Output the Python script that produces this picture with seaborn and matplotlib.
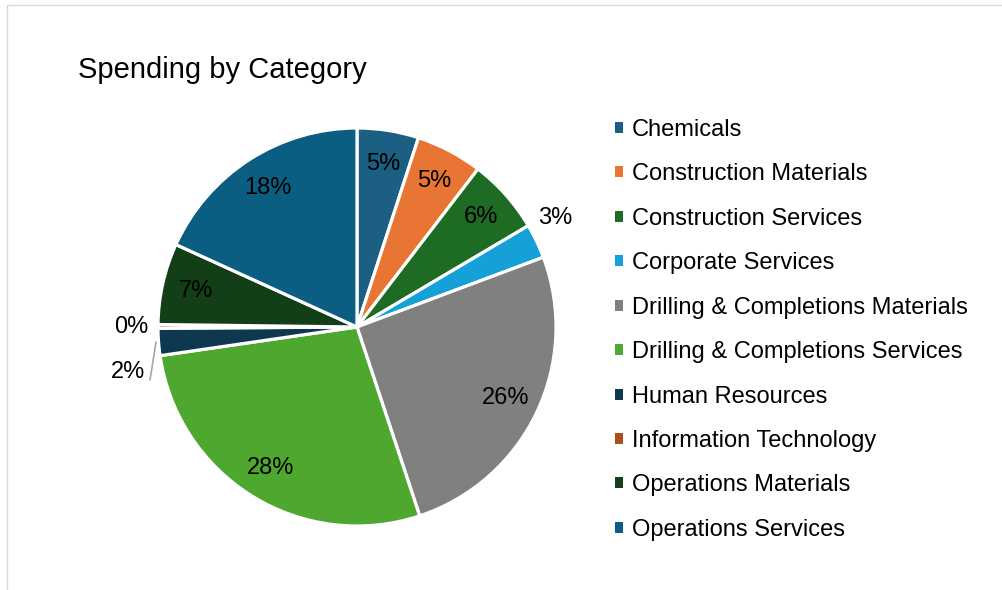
import matplotlib
matplotlib.use("Agg")
import matplotlib.pyplot as plt
from matplotlib.patches import Rectangle, Patch
import seaborn as sns

categories = ["Chemicals", "Construction Materials", "Construction Services",
              "Corporate Services", "Drilling & Completions Materials",
              "Drilling & Completions Services", "Human Resources",
              "Information Technology", "Operations Materials", "Operations Services"]
values = [5.0, 5.4, 6.1, 2.8, 25.6, 27.8, 2.2, 0.3, 6.6, 18.2]
colors = ["#1B5F83", "#E97534", "#1E6B24", "#16A0D8", "#808080",
          "#4EA72E", "#0E3850", "#A9501C", "#133F18", "#0B5E82"]
title = "Spending by Category"

sns.set_theme(style="white")
plt.rcParams['font.family'] = ['Liberation Sans', 'DejaVu Sans']
plt.rcParams['text.color'] = 'black'

fig = plt.figure(figsize=(10.03, 5.90), dpi=100)
W, H = 1003, 590
cx, cy, r = 357, 327, 199
ax = fig.add_axes([(cx - r) / W, (H - cy - r) / H, 2 * r / W, 2 * r / H])

wedges, texts, autotexts = ax.pie(
    values, colors=colors, startangle=90, counterclock=False,
    autopct=lambda p: f"{p:.0f}%", pctdistance=0.83,
    wedgeprops=dict(edgecolor="white", linewidth=2.3),
    textprops=dict(fontsize=17, color="black"))
ax.set_xlim(-1, 1)
ax.set_ylim(-1, 1)

# Outside labels for small slices
outside = {3: (0.995, 0.548), 7: (-1.136, 0.0), 6: (-1.151, -0.226)}
for i, (x, y) in outside.items():
    autotexts[i].set_position((x, y))
    autotexts[i].set_ha("center")
    autotexts[i].set_va("center")
ax.plot([-1.01, -1.04], [-0.075, -0.266], color="#A6A6A6", lw=1.2, clip_on=False)

fig.text(78 / W, 1 - 70 / H, title, fontsize=21, ha="left", va="center", color="black")

handles = [Patch(facecolor=c, edgecolor="none") for c in colors]
fig.legend(handles, categories, loc="upper left",
           bbox_to_anchor=(615 / W, 1 - 119 / H), frameon=False,
           fontsize=17, handlelength=0.34, handleheight=0.34,
           handletextpad=0.36, labelspacing=0.95, borderpad=0, borderaxespad=0,
           labelcolor="black")

fig.patches.append(Rectangle((7 / W, -0.01), 1.0, (H - 5) / H + 0.01,
                             transform=fig.transFigure, fill=False,
                             edgecolor="#D9D9D9", lw=1))

fig.savefig("out.png", dpi=100)
